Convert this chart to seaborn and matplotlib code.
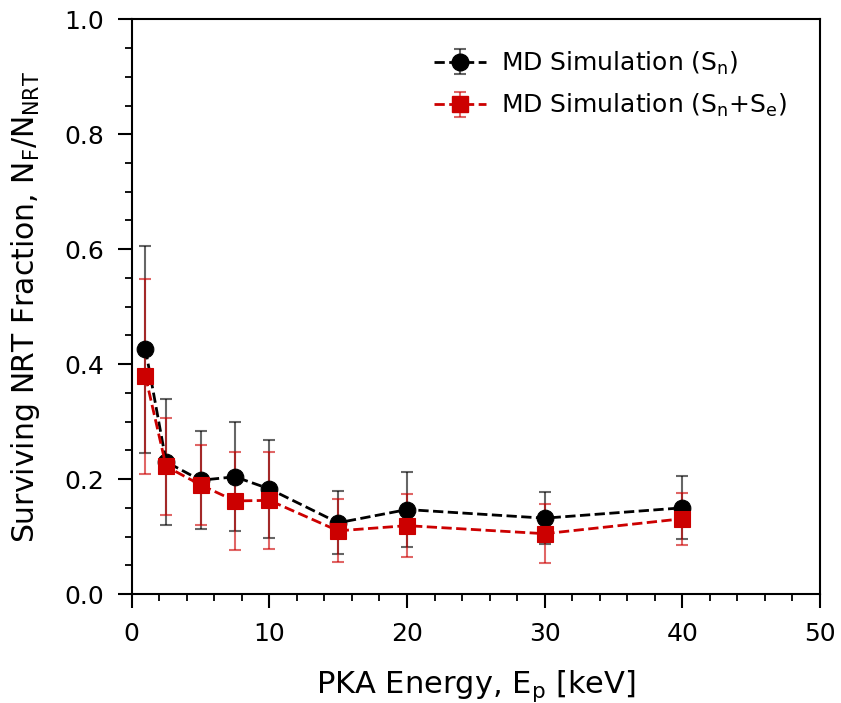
import numpy as np
import pandas as pd
import matplotlib
matplotlib.use("Agg")
import matplotlib.pyplot as plt
import seaborn as sns
from matplotlib.ticker import MultipleLocator, FormatStrFormatter

energy = [1, 2.5, 5, 7.5, 10, 15, 20, 30, 40]
frac_sn = [0.426, 0.230, 0.198, 0.204, 0.183, 0.124, 0.147, 0.132, 0.150]
err_sn = [0.180, 0.110, 0.085, 0.095, 0.085, 0.055, 0.065, 0.045, 0.055]
frac_snse = [0.379, 0.222, 0.190, 0.162, 0.163, 0.110, 0.119, 0.105, 0.131]
err_snse = [0.170, 0.085, 0.070, 0.085, 0.085, 0.055, 0.055, 0.051, 0.045]
labels = [r"MD Simulation (S$_\mathregular{n}$)",
          r"MD Simulation (S$_\mathregular{n}$+S$_\mathregular{e}$)"]

sns.set_style("ticks")
plt.rcParams['font.family'] = ['DejaVu Sans']
plt.rcParams.update({"text.color": "black", "axes.labelcolor": "black",
                     "xtick.color": "black", "ytick.color": "black",
                     "axes.edgecolor": "black"})

fig = plt.figure(figsize=(8.41, 7.03), dpi=100)
ax = fig.add_axes([0.1566, 0.1550, 0.8184, 0.8175])

df = pd.DataFrame({"E": energy * 2,
                   "f": frac_sn + frac_snse,
                   "s": [labels[0]] * len(energy) + [labels[1]] * len(energy)})

colors = ["black", "#cc0000"]
markers = ["o", "s"]
errs = [err_sn, err_snse]
fracs = [frac_sn, frac_snse]

for i in range(2):
    ax.errorbar(energy, fracs[i], yerr=errs[i], fmt='none', ecolor=colors[i],
                alpha=0.6, elinewidth=1.5, capsize=4, capthick=1.5, zorder=2 + i)

for i in range(2):
    sub = df[df.s == labels[i]]
    sns.lineplot(data=sub, x="E", y="f", ax=ax, color=colors[i], marker=markers[i],
                 markersize=12 if i == 0 else 11.5, markeredgecolor=colors[i],
                 markeredgewidth=0.8, linestyle="--", linewidth=2, legend=False,
                 zorder=4 + i)

# legend proxies
handles = []
for i in range(2):
    h = ax.errorbar([np.nan], [np.nan], yerr=[np.nan], fmt='--' + markers[i],
                    color=colors[i], ecolor=colors[i], elinewidth=1.5, capsize=4,
                    capthick=1.5, markersize=12 if i == 0 else 11.5, linewidth=2)
    for child in h.lines[1] + h.lines[2]:
        child.set_alpha(0.6)
    handles.append(h)
ax.legend(handles, labels, loc="upper right", frameon=False, fontsize=18,
          handlelength=2.08, handletextpad=0.6, labelspacing=0.6,
          borderaxespad=0, bbox_to_anchor=(0.9666, 0.9645))

ax.set_xlim(0, 50)
ax.set_ylim(0, 1.0)
ax.xaxis.set_major_locator(MultipleLocator(10))
ax.xaxis.set_minor_locator(MultipleLocator(2))
ax.yaxis.set_major_locator(MultipleLocator(0.2))
ax.yaxis.set_minor_locator(MultipleLocator(0.05))
ax.tick_params(which="major", length=10, width=1.5, labelsize=18, direction="out", pad=10)
ax.tick_params(which="minor", length=5, width=1.3, direction="out")
ax.yaxis.set_major_formatter(FormatStrFormatter("%.1f"))
for sp in ax.spines.values():
    sp.set_visible(True)
    sp.set_linewidth(1.5)
    sp.set_color("black")

ax.set_xlabel(r"PKA Energy, E$_\mathregular{p}$ [keV]", fontsize=22)
ax.set_ylabel(r"Surviving NRT Fraction, N$_\mathregular{F}$/N$_\mathregular{NRT}$", fontsize=21.5)
ax.xaxis.set_label_coords(0.5, -0.1296)
ax.yaxis.set_label_coords(-0.1303, 0.5)

fig.savefig("out.png", dpi=100)
